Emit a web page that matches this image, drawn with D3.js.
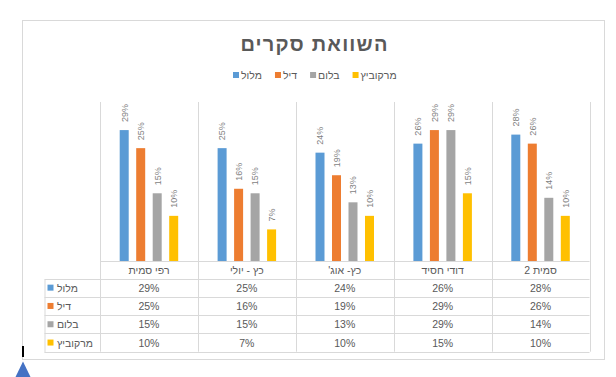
<!DOCTYPE html>
<html><head><meta charset="utf-8">
<script src="https://cdn.jsdelivr.net/npm/d3@7"></script>
<style>
html,body{margin:0;padding:0;background:#fff;}
svg{display:block;font-family:"Liberation Sans","DejaVu Sans",Arial,sans-serif;}
</style></head>
<body>
<svg id="c" width="616" height="377"></svg>
<script>
const title = "השוואת סקרים";
const categories = ["רפי סמית", "כץ - יולי", "כץ- אוג'", "דודי חסיד", "סמית 2"];
const seriesNames = ["מלול", "דיל", "בלום", "מרקוביץ"];
const seriesColors = ["#5b9bd5", "#ed7d31", "#a5a5a5", "#ffc000"];
const malul = [29, 25, 24, 26, 28];
const dil = [25, 16, 19, 29, 26];
const blum = [15, 15, 13, 29, 14];
const markovitz = [10, 7, 10, 15, 10];
const seriesValues = [malul, dil, blum, markovitz];
const yMax = 35;

const svg = d3.select("#c");
const grid = "#d9d9d9";
const textCol = "#595959";

// outer frame
svg.append("rect").attr("x", 22.5).attr("y", 20.5).attr("width", 582).attr("height", 339)
  .attr("fill", "#fff").attr("stroke", grid).attr("stroke-width", 1);

// title
svg.append("text").attr("x", 314.5).attr("y", 51).attr("text-anchor", "middle")
  .attr("font-size", 20).attr("font-weight", "bold").attr("fill", textCol)
  .attr("letter-spacing", 1.2)
  .attr("direction", "rtl").style("unicode-bidi", "plaintext").text(title);

// legend
const lg = svg.append("g");
let lx = 233;
seriesNames.forEach((n, i) => {
  lg.append("rect").attr("x", lx).attr("y", 72).attr("width", 6).attr("height", 6).attr("fill", seriesColors[i]);
  const t = lg.append("text").attr("x", lx + 8).attr("y", 78.5).attr("font-size", 10.5).attr("fill", textCol).text(n);
  const w = t.node().getComputedTextLength();
  lx += 8 + w + 13;
});

const plotL = 100, plotR = 589.5, plotT = 103, plotB = 261;
const x0 = d3.scaleBand().domain(categories).range([plotL, plotR]).padding(0);
const y = d3.scaleLinear().domain([0, yMax]).range([plotB, plotT]);
const pi = 7.5 / 16.5;
const groupW = 66;
const x1 = d3.scaleBand().domain(seriesNames).range([0, groupW]).paddingInner(pi).paddingOuter(pi / 2);

// table geometry
const tableL = 44.5;
const rowLines = [278.5, 296.8, 315.1, 333.4, 351.7];
const tableB = rowLines[rowLines.length - 1];

// vertical separators
const seps = categories.map(c => x0(c)).concat([plotR]);
seps.forEach(sx => {
  svg.append("line").attr("x1", Math.round(sx) + 0.5).attr("x2", Math.round(sx) + 0.5)
    .attr("y1", plotT - 1).attr("y2", tableB).attr("stroke", grid);
});
// category axis line
svg.append("line").attr("x1", plotL).attr("x2", plotR).attr("y1", plotB + 0.5).attr("y2", plotB + 0.5).attr("stroke", grid);
// table horizontal lines
rowLines.forEach(ry => {
  svg.append("line").attr("x1", tableL).attr("x2", plotR).attr("y1", Math.round(ry) + 0.5).attr("y2", Math.round(ry) + 0.5).attr("stroke", grid);
});
svg.append("line").attr("x1", tableL + 0.5).attr("x2", tableL + 0.5).attr("y1", Math.round(rowLines[0]) + 0.5).attr("y2", Math.round(tableB) + 0.5).attr("stroke", grid);

// bars
const groups = svg.append("g").selectAll("g").data(categories).join("g")
  .attr("transform", c => `translate(${x0(c) + (x0.bandwidth() - groupW) / 2},0)`);
seriesNames.forEach((s, si) => {
  groups.append("rect")
    .attr("x", (c, ci) => x1(s))
    .attr("y", (c, ci) => y(seriesValues[si][ci]))
    .attr("width", x1.bandwidth())
    .attr("height", (c, ci) => plotB - y(seriesValues[si][ci]))
    .attr("fill", seriesColors[si]);
  groups.append("text")
    .attr("transform", (c, ci) => `translate(${x1(s) + x1.bandwidth() / 2 + 3.3},${y(seriesValues[si][ci]) - 8}) rotate(-90)`)
    .attr("font-size", 9).attr("fill", "#7f7f7f")
    .text((c, ci) => seriesValues[si][ci] + "%");
});

// header categories
categories.forEach(c => {
  svg.append("text").attr("x", x0(c) + x0.bandwidth() / 2).attr("y", 274)
    .attr("text-anchor", "middle").attr("font-size", 10.5).attr("fill", textCol)
    .attr("direction", "rtl").style("unicode-bidi", "plaintext").text(c);
});

// table rows
seriesNames.forEach((s, si) => {
  const top = rowLines[si], bot = rowLines[si + 1];
  const cy = (top + bot) / 2;
  svg.append("rect").attr("x", 47.5).attr("y", cy - 3).attr("width", 6).attr("height", 6).attr("fill", seriesColors[si]);
  svg.append("text").attr("x", 57).attr("y", cy + 4).attr("font-size", 10.5).attr("fill", textCol)
    .text(s);
  categories.forEach((c, ci) => {
    svg.append("text").attr("x", x0(c) + x0.bandwidth() / 2).attr("y", cy + 4)
      .attr("text-anchor", "middle").attr("font-size", 10.5).attr("fill", textCol)
      .text(seriesValues[si][ci] + "%");
  });
});

// cursor and triangle marker
svg.append("rect").attr("x", 22).attr("y", 346).attr("width", 2).attr("height", 11).attr("fill", "#000");
svg.append("path").attr("d", "M23,361.5 L30.5,377 L15.5,377 Z").attr("fill", "#4472c4");
</script>
</body></html>
